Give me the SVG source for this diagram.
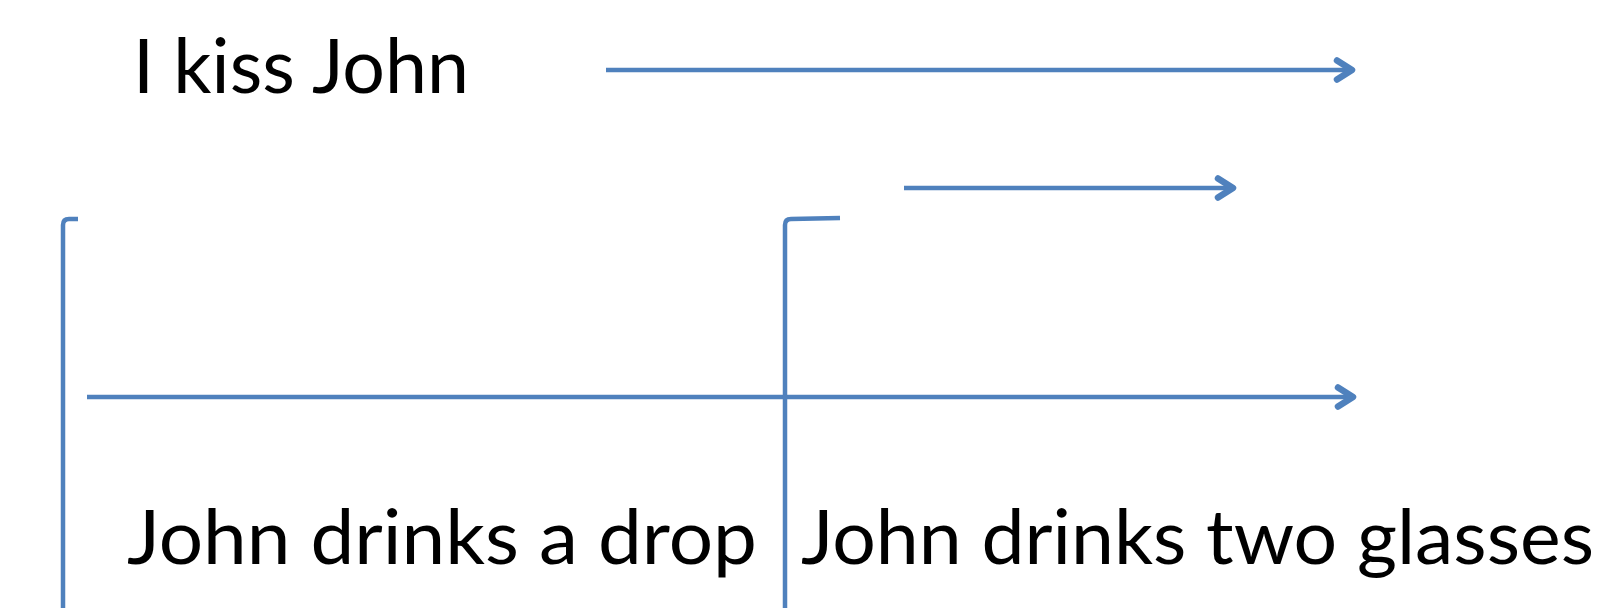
<svg xmlns="http://www.w3.org/2000/svg" width="1611" height="608" viewBox="0 0 1611 608">
  <style>
    .label { font-family: Lato, "Liberation Sans", sans-serif; font-size: 76px; fill: #000000; }
    .line { fill: none; stroke: #4F81BD; stroke-width: 4.5; stroke-linecap: butt; }
    .head { fill: none; stroke: #4F81BD; stroke-width: 6.5; stroke-linejoin: round; stroke-linecap: round; }
  </style>
  <defs>
    <!-- open chevron arrowhead shared by all arrows -->
    <marker id="arrow" markerUnits="userSpaceOnUse" refX="0" refY="0" markerWidth="40" markerHeight="40" orient="auto" overflow="visible">
      <path class="head" d="M-15,-9.5 L0,0 L-15,9.5"/>
    </marker>
  </defs>
  <rect width="1611" height="608" fill="#ffffff"/>

  <g id="connectors">
    <path id="arrow-kiss" class="line" d="M606,70 L1352,70" marker-end="url(#arrow)"/>
    <path id="arrow-upper" class="line" d="M904,188 L1233,188" marker-end="url(#arrow)"/>
    <path id="arrow-lower" class="line" d="M87,397 L1353,397" marker-end="url(#arrow)"/>
    <path id="bracket-left" class="line" d="M63,608 L63,225 Q63,219 69,219 L78,219"/>
    <path id="bracket-mid" class="line" d="M785,608 L785,225 Q785,219 791,219 L840,218"/>
  </g>

  <g id="node-kiss">
    <text class="label" x="133" y="93" textLength="336" lengthAdjust="spacingAndGlyphs">I kiss John</text>
  </g>
  <g id="node-drop">
    <text class="label" x="127" y="564" textLength="630" lengthAdjust="spacingAndGlyphs">John drinks a drop</text>
  </g>
  <g id="node-glasses">
    <text class="label" x="801" y="564" textLength="793" lengthAdjust="spacingAndGlyphs">John drinks two glasses</text>
  </g>
</svg>
